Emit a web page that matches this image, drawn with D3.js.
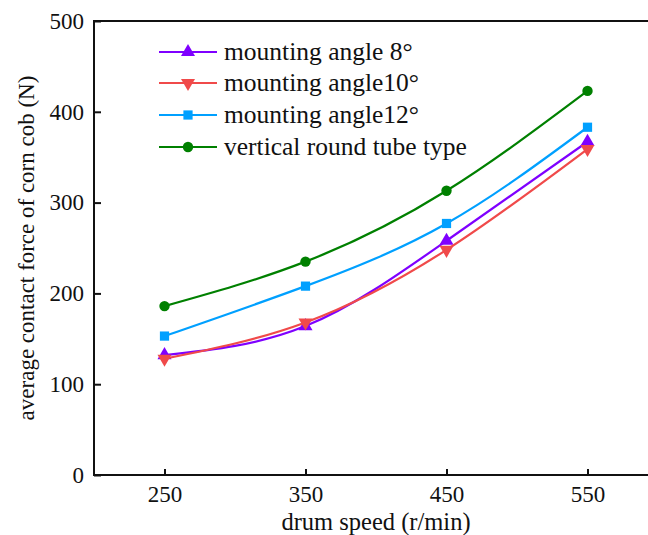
<!DOCTYPE html>
<html lang='en'>
  <head>
    <meta charset='utf-8'>
    <title>Contact force of corn cob</title>
    <script src="https://d3js.org/d3.v7.min.js" charset='utf-8'></script>
    <style type="text/css">
      body { margin: 0; background: #fff; }
      svg { display: block; }
      svg text { font-family: 'Liberation Serif', 'Times New Roman', serif; fill: #111; }
      .axis path, .axis line { stroke: #111; stroke-width: 2px; }
      .series { fill: none; stroke-width: 2.2px; }
    </style>
  </head>
  <body>
    <script type="text/javascript">
      var width = 648, height = 535;

      // drum speeds (r/min)
      var speeds = [250, 350, 450, 550];
      var seriesNames = ['mounting angle 8°', 'mounting angle10°', 'mounting angle12°', 'vertical round tube type'];
      var angle8 = [132, 164, 258, 367];
      var angle10 = [128, 168, 248, 359];
      var angle12 = [153, 208, 277, 383];
      var roundTube = [186, 235, 313, 423];
      var colors = ['#7f00ff', '#f04a4a', '#00a0ff', '#008000'];
      var symbols = [d3.symbolTriangle, d3.symbolTriangle, d3.symbolSquare, d3.symbolCircle];
      var xTicks = [250, 350, 450, 550];
      var yTicks = [0, 100, 200, 300, 400, 500];

      var series = [angle8, angle10, angle12, roundTube].map(function(vals, i) {
        return { name: seriesNames[i], color: colors[i], symbol: symbols[i], flip: i === 1,
                 points: vals.map(function(v, j) { return { x: speeds[j], y: v }; }) };
      });

      var svg = d3.select('body').append('svg')
        .attr('width', width)
        .attr('height', height);

      var x = d3.scaleLinear().domain([200, 600]).range([94, 658]);
      var y = d3.scaleLinear().domain([0, 500]).range([475, 21]);

      // frame (right side falls outside the picture)
      svg.append('rect')
        .attr('x', x(200)).attr('y', y(500))
        .attr('width', x(600) - x(200)).attr('height', y(0) - y(500))
        .attr('fill', 'none').attr('stroke', '#111').attr('stroke-width', 2);

      // inward ticks
      svg.append('g').attr('class', 'axis')
        .attr('transform', 'translate(0,' + y(0) + ')')
        .call(d3.axisBottom(x).tickValues(xTicks).tickSizeInner(-6).tickSizeOuter(0).tickPadding(11))
        .call(function(g) { g.select('.domain').remove(); g.attr('font-family', null).attr('font-size', null); })
        .selectAll('text').style('font-size', '23px').attr('fill', '#111');

      svg.append('g').attr('class', 'axis')
        .attr('transform', 'translate(' + x(200) + ',0)')
        .call(d3.axisLeft(y).tickValues(yTicks).tickSizeInner(-7).tickSizeOuter(0).tickPadding(10))
        .call(function(g) { g.select('.domain').remove(); g.attr('font-family', null).attr('font-size', null); })
        .selectAll('text').style('font-size', '23px').attr('fill', '#111');

      // axis titles
      svg.append('text')
        .attr('x', 376).attr('y', 530)
        .attr('text-anchor', 'middle')
        .style('font-size', '24.5px')
        .text('drum speed (r/min)');

      svg.append('text')
        .attr('transform', 'translate(34,248) rotate(-90)')
        .attr('text-anchor', 'middle')
        .style('font-size', '23px')
        .text('average contact force of corn cob (N)');

      // lines
      var line = d3.line()
        .x(function(d) { return x(d.x); })
        .y(function(d) { return y(d.y); })
        .curve(d3.curveNatural);

      var sym = function(s) { return d3.symbol().type(s.symbol).size(s.symbol === d3.symbolCircle ? 85 : 85); };

      series.forEach(function(s) {
        svg.append('path')
          .datum(s.points)
          .attr('class', 'series')
          .attr('stroke', s.color)
          .attr('d', line);

        svg.selectAll(null)
          .data(s.points)
          .enter().append('path')
          .attr('transform', function(d) {
            return 'translate(' + x(d.x) + ',' + y(d.y) + ')' + (s.flip ? ' rotate(180)' : '');
          })
          .attr('fill', s.color)
          .attr('d', sym(s));
      });

      // legend
      var legend = svg.append('g');
      var rowY = [52, 83, 115, 147];
      series.forEach(function(s, i) {
        var g = legend.append('g').attr('transform', 'translate(0,' + rowY[i] + ')');
        g.append('line')
          .attr('x1', 159).attr('x2', 217)
          .attr('stroke', s.color).attr('stroke-width', 2.2);
        g.append('path')
          .attr('transform', 'translate(188,0)' + (s.flip ? ' rotate(180)' : ''))
          .attr('fill', s.color)
          .attr('d', sym(s));
        g.append('text')
          .attr('x', 224).attr('y', 8)
          .style('font-size', '25.5px')
          .text(s.name);
      });
    </script>
  </body>
</html>
